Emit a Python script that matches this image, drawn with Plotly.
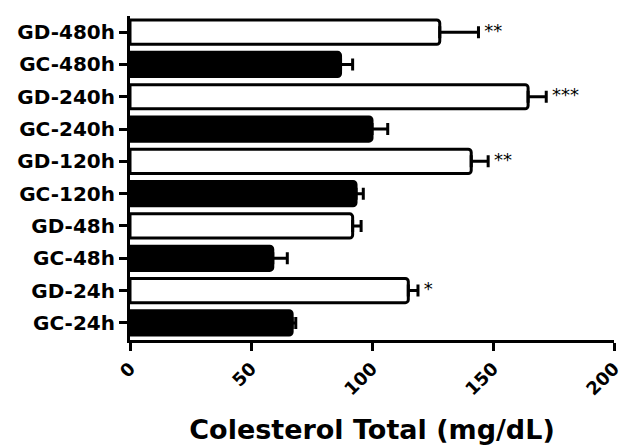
import plotly.graph_objects as go

categories = ["GC-24h", "GD-24h", "GC-48h", "GD-48h", "GC-120h",
              "GD-120h", "GC-240h", "GD-240h", "GC-480h", "GD-480h"]
means = [67, 115, 59, 92, 93.4, 141, 100, 164.5, 87, 128]
sems = [1.5, 4, 6, 3.5, 3, 7, 6.5, 7.5, 5, 16]
stars = ["", "*", "", "", "", "**", "", "***", "", "**"]
groups = ["GC", "GD", "GC", "GD", "GC", "GD", "GC", "GD", "GC", "GD"]
x_ticks = [0, 50, 100, 150, 200]

FONT = "DejaVu Sans, Arial, sans-serif"
fill = ["black" if g == "GC" else "white" for g in groups]

fig = go.Figure()
fig.add_trace(go.Bar(
    y=categories, x=means, orientation="h",
    marker=dict(color=fill, line=dict(color="black", width=3), cornerradius=3),
    error_x=dict(type="data", array=sems, arrayminus=[0] * len(sems),
                 symmetric=False, thickness=3, width=6, color="black"),
    showlegend=False, hoverinfo="skip",
))
fig.add_trace(go.Scatter(
    y=categories, x=[m + s for m, s in zip(means, sems)],
    mode="text", text=[" " + s if s else "" for s in stars],
    textposition="middle right",
    textfont=dict(family=FONT, size=18, color="black"),
    showlegend=False, hoverinfo="skip",
))

# page body has an 8px margin, so the figure is 8px smaller than the window
fig.update_layout(
    template="none",
    width=623, height=440, autosize=False,
    margin=dict(l=122, r=17, t=8, b=108),
    plot_bgcolor="white", paper_bgcolor="white",
    bargap=0.25,
    font=dict(family=FONT, color="black"),
    xaxis=dict(
        automargin=False,
        range=[0, 200], tickvals=x_ticks, ticktext=[str(v) for v in x_ticks],
        tickangle=-45, showline=True, linewidth=3, linecolor="black",
        ticks="outside", ticklen=8, tickwidth=3, tickcolor="black",
        showgrid=False, zeroline=False,
        tickfont=dict(family=FONT, size=18, color="black", weight="bold"),
        title=dict(text="Colesterol Total (mg/dL)", standoff=22,
                   font=dict(family=FONT, size=27, color="black", weight="bold")),
    ),
    yaxis=dict(
        automargin=False,
        type="category", categoryorder="array", categoryarray=categories,
        range=[-0.53, 9.5], showline=True, linewidth=3, linecolor="black",
        ticks="outside", ticklen=8, tickwidth=3, tickcolor="black",
        showgrid=False, zeroline=False,
        tickfont=dict(family=FONT, size=20, color="black", weight="bold"),
    ),
)

fig.write_html("out.html")
